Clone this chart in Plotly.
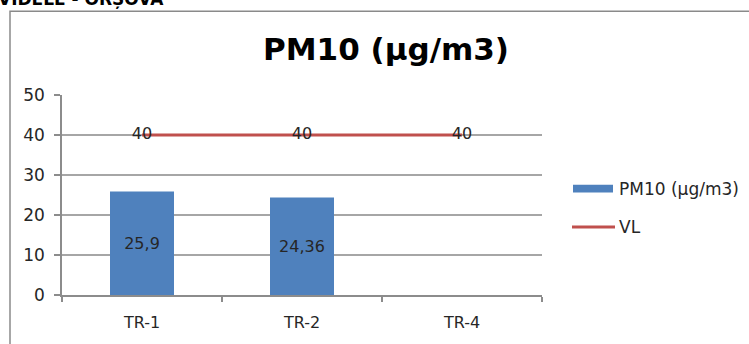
import plotly.graph_objects as go

categories = ["TR-1", "TR-2", "TR-4"]
pm10_values = [25.9, 24.36, None]
vl_values = [40, 40, 40]
series_names = ["PM10 (µg/m3)", "VL"]
chart_title = "PM10 (µg/m3)"
header_text = "VIDELE - ORȘOVA"
y_ticks = [0, 10, 20, 30, 40, 50]

BLUE = "#4F81BD"
RED = "#C0504D"
TXT = "#262626"
FONT = "DejaVu Sans"

def fmt(v):
    if v is None:
        return ""
    return ("%g" % v).replace(".", ",")

fig = go.Figure()
fig.add_trace(go.Bar(
    x=categories, y=pm10_values, name=series_names[0],
    marker=dict(color=BLUE, line=dict(width=0)),
    width=0.4,
    text=[fmt(v) for v in pm10_values],
    textposition="inside", insidetextanchor="middle",
    textfont=dict(family=FONT, size=16, color=TXT),
    showlegend=False,
))
fig.add_trace(go.Scatter(
    x=categories, y=vl_values, name=series_names[1],
    mode="lines+text",
    line=dict(color=RED, width=3),
    text=[fmt(v) for v in vl_values],
    textposition="middle center",
    textfont=dict(family=FONT, size=16, color=TXT),
    showlegend=False,
))

# plot area in pixels: x 62..542, y 95..298
L, R, T, B = 62, 749 - 542, 95, 344 - 298
pw, ph = 480, 203
def px(x):
    return (x - L) / pw
def py(y):
    return (344 - B - y) / ph

shapes = [
    dict(type="rect", xref="paper", yref="paper",
         x0=px(10), x1=px(760), y0=py(355), y1=py(10),
         line=dict(color="#8a8a8a", width=1.5), layer="below"),
    dict(type="rect", xref="paper", yref="paper",
         x0=px(573), x1=px(613), y0=py(194), y1=py(186),
         fillcolor=BLUE, line=dict(width=0)),
    dict(type="line", xref="paper", yref="paper",
         x0=px(572), x1=px(615), y0=py(229), y1=py(229),
         line=dict(color=RED, width=3)),
]
annotations = [
    dict(text="<b>" + chart_title + "</b>", xref="paper", yref="paper",
         x=px(386), y=py(48), xanchor="center", yanchor="middle",
         showarrow=False, font=dict(family=FONT, size=31, color="#000000")),
    dict(text="<b>" + header_text + "</b>", xref="paper", yref="paper",
         x=px(-4), y=py(10), xanchor="left", yanchor="bottom",
         showarrow=False, font=dict(family=FONT, size=17, color="#000000")),
    dict(text=series_names[0], xref="paper", yref="paper",
         x=px(617), y=py(190), xanchor="left", yanchor="middle",
         showarrow=False, font=dict(family=FONT, size=17, color=TXT)),
    dict(text=series_names[1], xref="paper", yref="paper",
         x=px(617), y=py(229), xanchor="left", yanchor="middle",
         showarrow=False, font=dict(family=FONT, size=17, color=TXT)),
]

fig.update_layout(
    width=749, height=344,
    margin=dict(l=L, r=R, t=T, b=B, pad=0),
    paper_bgcolor="white", plot_bgcolor="white",
    shapes=shapes, annotations=annotations,
    showlegend=False,
)
fig.update_xaxes(
    type="category", categoryorder="array", categoryarray=categories,
    showline=True, linecolor="#8c8c8c", linewidth=1.5,
    ticks="outside", tickson="boundaries", ticklen=5, tickcolor="#8c8c8c", tickwidth=1.5,
    showgrid=False, tickfont=dict(family=FONT, size=16, color=TXT),
    ticklabelstandoff=12,
    fixedrange=True,
)
fig.update_yaxes(
    range=[0, 50], tickvals=y_ticks,
    showline=True, linecolor="#8c8c8c", linewidth=1.5,
    ticks="outside", ticklen=6, tickcolor="#8c8c8c", tickwidth=1.5,
    showgrid=True, gridcolor="#a6a6a6", gridwidth=1.5,
    zeroline=False,
    tickfont=dict(family=FONT, size=17, color=TXT),
    ticklabelstandoff=6,
    fixedrange=True,
)

fig.write_html("out.html")
